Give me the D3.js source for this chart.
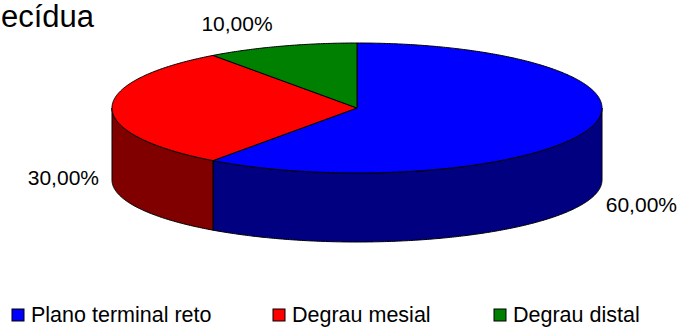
<!DOCTYPE html>
<html>
<head>
<meta charset="utf-8">
<script src="https://cdn.jsdelivr.net/npm/d3@7"></script>
<style>
    body { margin: 0; background: #fff; }
    svg { display: block; font-family: "Liberation Sans", Arial, sans-serif; }
</style>
</head>
<body>
<svg id="chart" width="679" height="327"></svg>
<script>
// Valores
const categories = ["Plano terminal reto", "Degrau mesial", "Degrau distal"];
const values = [60, 30, 10];
const valueLabels = ["60,00%", "30,00%", "10,00%"];
const topColors = ["#0000FF", "#FF0000", "#008000"];
const sideColors = ["#000080", "#800000", "#004000"];
const titleText = "ecídua";

let svg = d3.select("#chart");

const cx = 357, cy = 108, rx = 245, ry = 65;
const depth = 72, ryBottom = 62;

// angle measured clockwise from 12 o'clock
function pt(a, yc, r) {
    return [cx + rx * Math.sin(a), yc - r * Math.cos(a)];
}

function arcPoints(a0, a1, yc, r) {
    let n = Math.max(2, Math.ceil(Math.abs(a1 - a0) / 0.01));
    return d3.range(n + 1).map(i => pt(a0 + (a1 - a0) * i / n, yc, r));
}

let pie = d3.pie().sort(null).value(d => d);
let arcs = pie(values);
let line = d3.line();

// sides (only the front half, between 90 and 270 degrees, is visible)
let sides = svg.append("g");
arcs.forEach(function (d, i) {
    let a0 = Math.max(d.startAngle, Math.PI / 2);
    let a1 = Math.min(d.endAngle, 3 * Math.PI / 2);
    if (a1 <= a0) return;
    let top = arcPoints(a0, a1, cy, ry);
    let bottom = arcPoints(a1, a0, cy + depth, ryBottom);
    sides.append("path")
        .attr("d", line(top.concat(bottom)) + "Z")
        .attr("fill", sideColors[i])
        .attr("stroke", "#000")
        .attr("stroke-width", 1)
        .attr("stroke-linejoin", "round");
});

// top face
let tops = svg.append("g");
arcs.forEach(function (d, i) {
    let p = [[cx, cy]].concat(arcPoints(d.startAngle, d.endAngle, cy, ry));
    tops.append("path")
        .attr("d", line(p) + "Z")
        .attr("fill", topColors[i])
        .attr("stroke", "#000")
        .attr("stroke-width", 1)
        .attr("stroke-linejoin", "round");
});

// data labels
const labelPos = [
    {x: 677, y: 212, anchor: "end"},
    {x: 99, y: 185, anchor: "end"},
    {x: 237, y: 31, anchor: "middle"}
];
svg.append("g")
    .selectAll("text")
    .data(valueLabels)
    .enter()
    .append("text")
    .attr("x", (d, i) => labelPos[i].x)
    .attr("y", (d, i) => labelPos[i].y)
    .attr("text-anchor", (d, i) => labelPos[i].anchor)
    .attr("font-size", 21)
    .attr("fill", "#000")
    .text(d => d);

// titulo (cortado na imagem)
svg.append("text")
    .attr("x", 1)
    .attr("y", 27)
    .attr("font-size", 31)
    .attr("fill", "#000")
    .text(titleText);

// legenda
const legendX = [12, 273, 494];
let legend = svg.append("g")
    .selectAll("g")
    .data(categories)
    .enter()
    .append("g")
    .attr("transform", (d, i) => "translate(" + legendX[i] + ",309)");

legend.append("rect")
    .attr("width", 12)
    .attr("height", 12)
    .attr("fill", (d, i) => topColors[i])
    .attr("stroke", "#000")
    .attr("stroke-width", 1);

legend.append("text")
    .attr("x", 19)
    .attr("y", 12.5)
    .attr("font-size", 21.5)
    .attr("fill", "#000")
    .text(d => d);
</script>
</body>
</html>
